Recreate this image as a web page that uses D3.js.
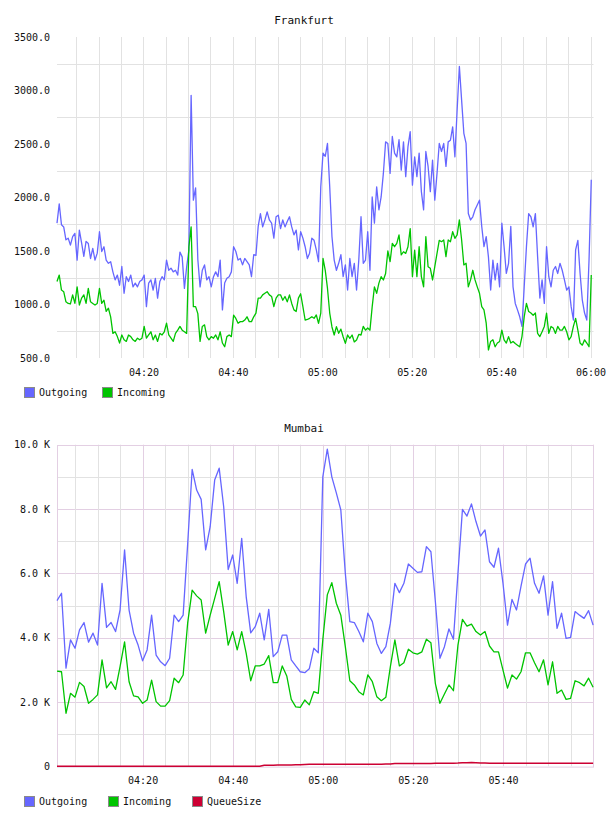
<html>
<head>
<meta charset="utf-8">
<script src="https://cdn.jsdelivr.net/npm/d3@7/dist/d3.min.js"></script>
<style>
  body { margin: 0; background: #fff; }
  text { font-family: "DejaVu Sans Mono", monospace; fill: #111; }
</style>
</head>
<body>
<svg width="608" height="816"></svg>
<script>
// Frankfurt, 30 s samples from 04:00:40
var fraOut = [
  1760,1940,1745,1725,1605,1620,1555,1635,1665,1415,
  1695,1575,1450,1590,1570,1430,1525,1415,1480,1680,
  1495,1540,1415,1385,1400,1305,1230,1275,1180,1355,
  1105,1260,1215,1275,1165,1200,1165,1215,1230,1275,
  980,1200,1230,1135,1245,1060,1215,1260,1230,1415,
  1320,1340,1305,1320,1275,1490,1445,1150,1350,1510,
  2955,1975,2090,1420,1165,1320,1370,1230,1260,1165,
  1260,1305,1260,1415,950,1200,1245,1260,1305,1540,
  1495,1415,1430,1370,1430,1400,1370,1260,1465,1460,
  1730,1850,1725,1790,1865,1790,1760,1620,1820,1835,
  1710,1790,1725,1775,1820,1725,1650,1695,1510,1680,
  1620,1540,1430,1480,1620,1600,1510,1400,2100,2415,
  2385,2505,2100,1635,1415,1320,1385,1465,1260,1370,
  1135,1430,1260,1385,1135,1415,1820,1385,1415,1680,
  1320,2005,1760,2100,1885,2005,2225,2520,2505,2225,
  2570,2415,2380,2540,2255,2520,2195,2475,2615,2115,
  2380,2195,2415,2055,1885,2430,2290,2055,2350,1975,
  2225,2505,2430,2505,2290,2520,2535,2660,2380,2820,
  3225,2910,2600,2505,1850,1790,1820,1885,1930,1975,
  1730,1540,1635,1445,1135,1415,1230,1385,1165,1760,
  1540,1290,1385,1730,1165,1010,950,885,795,1165,
  1540,1850,1820,1725,1850,1445,1060,1230,1010,1540,
  1260,1165,1320,1355,1290,1385,1320,1230,1135,1165,
  980,855,1510,1600,1290,1040,920,855,1415,2165
];
var fraIn = [
  1215,1275,1135,1120,1025,1010,1005,1090,1010,1165,
  995,1060,1090,1010,1150,1025,1010,995,1010,1150,
  1010,1040,935,965,885,730,745,700,640,715,
  670,655,715,700,670,655,685,670,685,795,
  685,715,745,670,715,655,730,715,745,825,
  715,685,655,730,760,795,760,745,730,1540,
  1725,980,980,915,655,795,810,700,670,700,
  685,715,670,745,640,605,700,715,700,900,
  870,825,840,840,855,885,840,840,885,920,
  1060,1060,1090,1105,1120,1090,1075,980,1060,1090,
  1090,1040,1075,1025,1090,1010,950,935,1060,1100,
  980,855,860,871,886,871,902,824,920,1430,
  1320,1150,920,790,715,793,731,770,699,637,
  715,684,715,650,668,720,715,795,760,780,
  760,980,1165,1105,1200,1260,1229,1290,1500,1400,
  1572,1540,1572,1650,1463,1493,1478,1540,1710,1260,
  1509,1260,1540,1260,1166,1634,1353,1338,1229,1353,
  1478,1600,1587,1603,1447,1603,1587,1680,1619,1650,
  1790,1605,1370,1385,1165,1230,1320,1230,1165,1105,
  980,950,825,575,655,670,605,640,655,760,
  670,640,700,640,655,635,620,605,700,885,
  1010,935,920,900,920,730,700,745,795,920,
  730,795,780,730,795,760,760,795,745,670,
  700,795,870,760,640,620,670,640,605,1275
];
var fraYTicks = [500, 1000, 1500, 2000, 2500, 3000, 3500];
var fraXTicks = ["04:20", "04:40", "05:00", "05:20", "05:40", "06:00"];

// Mumbai, 1 min samples from 04:01
var mumOut = [
  5150,5380,3050,3930,3670,4240,4470,3860,4140,3770,
  5690,4320,4470,4190,4860,6730,4860,4140,3770,3280,
  3620,4700,3460,3250,3130,3360,4700,4500,4700,6900,
  9230,8590,8300,6730,7450,8900,9270,8070,6120,6570,
  5690,7090,5270,4150,4340,4760,3930,4880,3410,3560,
  4080,4080,3310,3120,2940,2910,3030,3670,3530,9000,
  9860,9000,8500,7970,6000,4500,4470,4190,3870,4760,
  4500,3820,3510,3720,4450,5690,5400,5690,6290,6160,
  6030,6050,6830,6670,5100,3360,3720,4270,3950,6000,
  7990,7780,8160,7610,7160,7350,6360,6190,6780,5690,
  4390,5190,4860,5600,6290,6470,5690,5380,5920,4700,
  5740,4290,4760,3980,4010,4810,4700,4600,4840,4390
];
var mumIn = [
  2960,2940,1650,2270,2150,2610,2480,1960,2080,2220,
  3310,2440,2630,2390,3100,3870,2630,2190,2160,1960,
  2060,2680,2010,1870,1870,2040,2740,2600,2840,4450,
  5480,5300,5170,4140,4700,5220,5740,4810,3770,4190,
  3620,4190,3510,2660,3120,3120,3180,3440,2600,2600,
  3120,2810,2080,1850,1830,2060,1910,2320,2270,3930,
  5330,5710,5070,4700,3720,2660,2530,2320,2220,2840,
  2630,2160,2040,2150,3100,3930,3120,3220,3640,3530,
  3490,3560,3950,3840,2560,1960,2250,2530,2350,3770,
  4570,4360,4420,4190,4080,4190,3740,3560,3560,2990,
  2430,2840,2710,2940,3530,3530,3220,2940,3310,2530,
  3250,2270,2370,2080,2110,2660,2600,2500,2740,2460
];
var mumQueue = [
  0,0,0,0,0,0,0,0,0,0,
  0,0,0,0,0,0,0,0,0,0,
  0,0,0,0,0,0,0,0,0,0,
  0,0,0,0,0,0,0,0,0,0,
  0,0,0,0,0,0,30,35,35,40,
  40,40,40,45,45,55,60,60,60,60,
  60,65,65,65,60,60,60,60,65,65,
  65,65,65,70,70,85,90,90,90,90,
  90,90,90,90,95,95,95,95,95,100,
  110,110,115,110,105,100,95,95,95,95,
  95,95,95,95,95,95,95,95,95,95,
  95,95,95,95,95,95,95,95,95,95
];
var mumYTicks = [0, 2000, 4000, 6000, 8000, 10000];
var mumXTicks = ["04:20", "04:40", "05:00", "05:20", "05:40"];

var colOut = "#6666ff", colIn = "#00c400", colQueue = "#cc0033";

var svg = d3.select("svg");
var parseT = d3.timeParse("%H:%M:%S");
var parseHM = d3.timeParse("%H:%M");

function series(values, start, stepSec) {
  var t0 = parseT(start);
  return values.map(function(v, i) {
    return { t: new Date(t0.getTime() + i * stepSec * 1000), v: v };
  });
}

function drawChart(c) {
  var g = svg.append("g");
  var x = d3.scaleTime().domain([parseT(c.t0), parseT(c.t1)]).range([c.left, c.right]);
  var y = d3.scaleLinear().domain([c.yTicks[0], c.yTicks[c.yTicks.length - 1]]).range([c.bottom, c.top]);

  // horizontal grid
  g.selectAll(".hg").data(c.hGrid).enter().append("line")
    .attr("x1", c.left).attr("x2", c.right)
    .attr("y1", function(d) { return Math.round(y(d.v)) + 0.5; })
    .attr("y2", function(d) { return Math.round(y(d.v)) + 0.5; })
    .attr("stroke", function(d) { return d.major ? c.majorCol : "#e2e2e2"; });

  // vertical grid
  var vt = d3.timeMinute.every(5).range(x.domain()[0], x.domain()[1]);
  g.selectAll(".vg").data(vt).enter().append("line")
    .attr("x1", function(d) { return Math.round(x(d)) + 0.5; })
    .attr("x2", function(d) { return Math.round(x(d)) + 0.5; })
    .attr("y1", c.top).attr("y2", c.bottom)
    .attr("stroke", function(d) {
      return (c.frame && d.getMinutes() % 20 === 0) ? c.majorCol : "#e2e2e2";
    });

  if (c.frame) {
    g.append("rect")
      .attr("x", c.left + 0.5).attr("y", Math.round(c.top) + 0.5)
      .attr("width", c.right - c.left - 1).attr("height", c.bottom - c.top)
      .attr("fill", "none").attr("stroke", c.majorCol);
  }

  // lines
  var line = d3.line().x(function(d) { return x(d.t); }).y(function(d) { return y(d.v); });
  c.lines.forEach(function(s) {
    g.append("path")
      .datum(series(s.values, c.start, c.step))
      .attr("fill", "none")
      .attr("stroke", s.color)
      .attr("stroke-width", s.width)
      .attr("stroke-linejoin", "round")
      .attr("d", line);
  });

  // y axis
  var ya = g.append("g").attr("transform", "translate(" + c.left + ",0)")
    .call(d3.axisLeft(y).tickValues(c.yTicks).tickSize(0).tickPadding(7).tickFormat(c.yFormat));
  ya.select(".domain").remove();
  ya.selectAll("text").style("font-family", "DejaVu Sans Mono").style("font-size", "10px").attr("fill", "#111");

  // x axis
  var xa = g.append("g").attr("transform", "translate(0," + c.bottom + ")")
    .call(d3.axisBottom(x).tickValues(c.xTicks.map(function(s) { return parseHM(s); }))
      .tickSize(0).tickPadding(11).tickFormat(d3.timeFormat("%H:%M")));
  xa.select(".domain").remove();
  xa.selectAll("text").style("font-family", "DejaVu Sans Mono").style("font-size", "10px").attr("fill", "#111");

  // title
  g.append("text").attr("x", 304).attr("y", c.titleY)
    .attr("text-anchor", "middle").style("font-size", "11px").text(c.title);

  // legend
  var lg = g.selectAll(".lg").data(c.lines).enter().append("g")
    .attr("transform", function(d, i) { return "translate(" + c.legendX[i] + "," + c.legendY + ")"; });
  lg.append("rect").attr("x", 0.5).attr("y", -4.5).attr("width", 10).attr("height", 10)
    .attr("fill", function(d) { return d.color; }).attr("stroke", "#8a8a8a");
  lg.append("text").attr("x", 15).attr("y", 4).style("font-size", "10px").text(function(d) { return d.name; });
}

function midGrid(ticks) {
  var out = [];
  for (var i = 0; i < ticks.length - 1; i++) out.push({ v: (ticks[i] + ticks[i + 1]) / 2, major: false });
  return out;
}

function kGrid(ticks) {
  var out = [];
  for (var v = ticks[0] + 1000; v < ticks[ticks.length - 1]; v += 1000) out.push({ v: v, major: v % 2000 === 0 });
  return out;
}

drawChart({
  title: "Frankfurt", titleY: 24,
  t0: "04:00:40", t1: "06:00:40", start: "04:00:40", step: 30,
  left: 57, right: 593.5, top: 37, bottom: 358,
  yTicks: fraYTicks, yFormat: d3.format(".1f"),
  xTicks: fraXTicks,
  hGrid: midGrid(fraYTicks), frame: false, majorCol: "#e2e2e2",
  lines: [
    { name: "Outgoing", values: fraOut, color: colOut, width: 1.3 },
    { name: "Incoming", values: fraIn, color: colIn, width: 1.3 }
  ],
  legendX: [24, 102], legendY: 392
});

drawChart({
  title: "Mumbai", titleY: 432,
  t0: "04:01:00", t1: "06:00:12", start: "04:01:00", step: 60,
  left: 57, right: 594, top: 444.7, bottom: 766.3,
  yTicks: mumYTicks,
  yFormat: function(v) { return v === 0 ? "0" : (v / 1000).toFixed(1) + " K"; },
  xTicks: mumXTicks,
  hGrid: kGrid(mumYTicks), frame: true, majorCol: "#e3cfe3",
  lines: [
    { name: "Outgoing", values: mumOut, color: colOut, width: 1.3 },
    { name: "Incoming", values: mumIn, color: colIn, width: 1.3 },
    { name: "QueueSize", values: mumQueue, color: colQueue, width: 1.5 }
  ],
  legendX: [24, 108, 192], legendY: 801
});
</script>
</body>
</html>
